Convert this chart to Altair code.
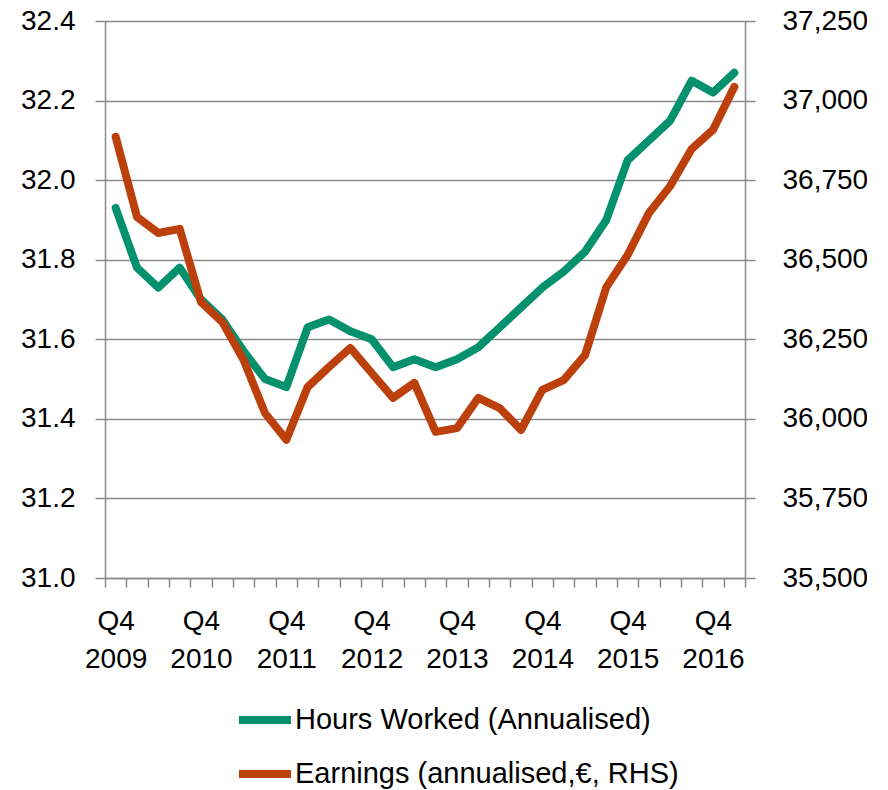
import altair as alt
import pandas as pd

quarters = [
    "Q4 2009", "Q1 2010", "Q2 2010", "Q3 2010", "Q4 2010",
    "Q1 2011", "Q2 2011", "Q3 2011", "Q4 2011",
    "Q1 2012", "Q2 2012", "Q3 2012", "Q4 2012",
    "Q1 2013", "Q2 2013", "Q3 2013", "Q4 2013",
    "Q1 2014", "Q2 2014", "Q3 2014", "Q4 2014",
    "Q1 2015", "Q2 2015", "Q3 2015", "Q4 2015",
    "Q1 2016", "Q2 2016", "Q3 2016", "Q4 2016",
    "Q1 2017",
]

hours = [
    31.93, 31.78, 31.73, 31.78, 31.70,
    31.65, 31.57, 31.50, 31.48,
    31.63, 31.65, 31.62, 31.60,
    31.53, 31.55, 31.53, 31.55,
    31.58, 31.63, 31.68, 31.73,
    31.77, 31.82, 31.90, 32.05,
    32.10, 32.15, 32.25, 32.22,
    32.27,
]

earnings = [
    36886, 36634, 36584, 36597, 36367,
    36304, 36185, 36018, 35934,
    36100, 36163, 36223, 36144,
    36066, 36113, 35959, 35971,
    36066, 36034, 35965, 36091,
    36122, 36200, 36414, 36515,
    36647, 36732, 36848, 36908,
    37043,
]

series_names = ["Hours Worked (Annualised)", "Earnings (annualised,€, RHS)"]
series_colors = ["#05906e", "#bc400c"]

hours_ticks = [31.0, 31.2, 31.4, 31.6, 31.8, 32.0, 32.2, 32.4]
earn_ticks = [35500, 35750, 36000, 36250, 36500, 36750, 37000, 37250]

df_h = pd.DataFrame({"quarter": quarters, "hours": hours, "series": series_names[0]})
df_e = pd.DataFrame({"quarter": quarters, "earnings": earnings, "series": series_names[1]})

FONT = "Liberation Sans"
GRAY = "#8a8a8a"

color_enc = alt.Color(
    "series:N",
    scale=alt.Scale(domain=series_names, range=series_colors),
    legend=alt.Legend(
        title=None, orient="none", legendX=130, legendY=669, direction="vertical",
        symbolType="stroke", symbolSize=2704, symbolStrokeWidth=8,
        labelFontSize=29, labelFont=FONT, labelColor="black", labelOffset=0,
        rowPadding=8, padding=0, labelLimit=800,
    ),
)

x_enc = alt.X(
    "quarter:N", sort=quarters,
    scale=alt.Scale(type="band", paddingInner=0, paddingOuter=0),
    axis=alt.Axis(
        title=None, grid=False, labelAngle=0, tickBand="extent",
        labelOverlap=False,
        labelExpr="isString(datum.value) && indexof(datum.value, 'Q4') == 0 ? split(datum.value, ' ') : ''",
        tickSize=9, tickColor=GRAY, tickWidth=1.5,
        domainColor=GRAY, domainWidth=1.5,
        labelPadding=20, labelBaseline="top", labelLineHeight=38,
        labelFont=FONT, labelFontSize=28, labelColor="black",
    ),
)

hours_line = alt.Chart(df_h).mark_line(
    strokeWidth=8, strokeCap="round", strokeJoin="round"
).encode(
    x=x_enc,
    y=alt.Y(
        "hours:Q",
        scale=alt.Scale(domain=[31.0, 32.4], nice=False, zero=False),
        axis=alt.Axis(
            title=None, values=hours_ticks, format=".1f", orient="left",
            grid=True, gridColor=GRAY, gridWidth=1.5,
            domainColor=GRAY, domainWidth=1.5,
            tickSize=10, tickColor=GRAY, tickWidth=1.5,
            labelPadding=20, labelFont=FONT, labelFontSize=28, labelColor="black",
        ),
    ),
    color=color_enc,
)

earn_line = alt.Chart(df_e).mark_line(
    strokeWidth=8, strokeCap="round", strokeJoin="round"
).encode(
    x=x_enc,
    y=alt.Y(
        "earnings:Q",
        scale=alt.Scale(domain=[35500, 37250], nice=False, zero=False),
        axis=alt.Axis(
            title=None, values=earn_ticks, format=",.0f", orient="right",
            grid=False, domainColor=GRAY, domainWidth=1.5,
            tickSize=10, tickColor=GRAY, tickWidth=1.5,
            labelPadding=27, labelFont=FONT, labelFontSize=28, labelColor="black",
        ),
    ),
    color=color_enc,
)

chart = alt.layer(hours_line, earn_line).resolve_scale(
    y="independent"
).properties(
    width=640, height=557,
    autosize=alt.AutoSizeParams(type="none"),
    padding={"left": 97, "top": 13, "right": 122, "bottom": 212},
    background="white",
).configure_view(stroke=None)

chart.save("out.html", embed_options={"renderer": "svg", "actions": False})
